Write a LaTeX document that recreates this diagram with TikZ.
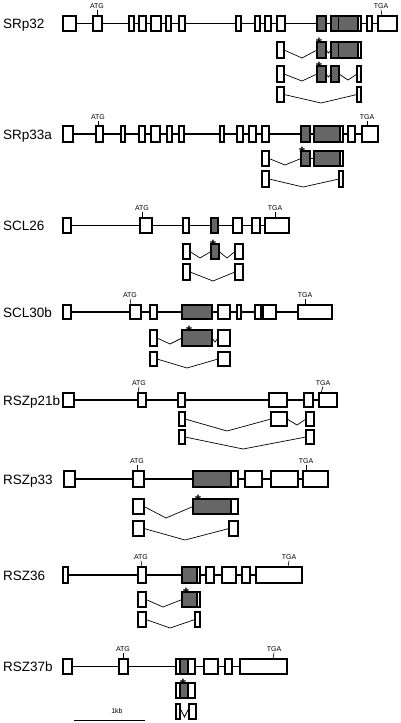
\documentclass[tikz,border=0pt]{standalone}
\usepackage{fontspec}
\setmainfont{Liberation Sans}
\begin{document}
\begin{tikzpicture}[
    x=1pt, y=-1pt,
    exon/.style={draw, line width=1.3pt, fill=white},
    cds/.style={exon, fill=black!60},
    intron/.style={line width=1.4pt},
    splice/.style={line width=0.7pt},
    tagline/.style={line width=0.6pt},
    genename/.style={anchor=base west, inner sep=0pt, font=\fontsize{13.5}{14}\selectfont},
    tagtext/.style={anchor=base, inner sep=0.8pt, font=\fontsize{7}{8}\selectfont},
    stopstar/.style={anchor=base, inner sep=0pt, font=\fontsize{15}{16}\selectfont\bfseries}
]
\useasboundingbox (0,0) rectangle (400,723);

% === SRp32 ===
\node[genename] (srp32) at (3,28.5) {SRp32};
\draw[intron] (76,23.5) -- (378,23.5);
\foreach \a/\b in {63/76,93/102,129/134,139/146,151/161,166/171,179/185,236/241,255/260,265/271,277/285,367/372,378/397}
    \draw[exon] (\a,16) rectangle (\b,31);
\foreach \a/\b in {317/326,331/358}
    \draw[cds] (\a,16) rectangle (\b,31);
\draw[exon] (358,16) rectangle (361,31);
\draw[line width=1pt] (338,16) -- (338,31);
\node[tagtext] (atg1) at (97,8.5) {ATG};
\draw[tagline] (97,16) -- (atg1.south);
\node[tagtext] (tga1) at (381,8.5) {TGA};
\draw[tagline] (382,16) -- (tga1.south);
% transcripts
\draw[splice] (284,50) -- (302,58) -- (317,50);
\draw[splice] (326,50) -- (328.5,53) -- (331,50);
\draw[exon] (277,42) rectangle (284,58);
\draw[cds] (317,42) rectangle (326,58);
\draw[cds] (331,42) rectangle (358,58);
\draw[exon] (358,42) rectangle (361,58);
\draw[line width=1pt] (338,42) -- (338,58);
\node[stopstar] (st1a) at (319,48) {*};
\draw[splice] (284,74) -- (302,81) -- (317,74);
\draw[splice] (326,74) -- (328.5,77) -- (331,74);
\draw[splice] (339,74) -- (348,80) -- (357,74);
\draw[exon] (277,66) rectangle (284,82);
\draw[cds] (317,66) rectangle (326,82);
\draw[cds] (331,66) rectangle (339,82);
\draw[exon] (357,66) rectangle (361,82);
\node[stopstar] (st1b) at (319,72) {*};
\draw[splice] (284,94.5) -- (321,103) -- (357,94.5);
\draw[exon] (277,87) rectangle (284,102);
\draw[exon] (357,87) rectangle (361,102);

% === SRp33a ===
\node[genename] (srp33a) at (3,139) {SRp33a};
\draw[intron] (73,134) -- (362,134);
\foreach \a/\b in {63/73,96/103,121/125,139/145,151/160,167/172,179/184,220/224,237/243,249/256,262/269,348/355,362/378}
    \draw[exon] (\a,126) rectangle (\b,142);
\foreach \a/\b in {301/310,314/340}
    \draw[cds] (\a,126) rectangle (\b,142);
\draw[exon] (340,126) rectangle (343,142);
\node[tagtext] (atg2) at (98,119.5) {ATG};
\draw[tagline] (98,126) -- (atg2.south);
\node[tagtext] (tga2) at (367,119.5) {TGA};
\draw[tagline] (367,126) -- (tga2.south);
% transcripts
\draw[splice] (269,158.5) -- (285,165) -- (301,158.5);
\draw[splice] (310,158.5) -- (314,158.5);
\draw[exon] (262,151) rectangle (269,166);
\draw[cds] (301,151) rectangle (310,166);
\draw[cds] (314,151) rectangle (340,166);
\draw[exon] (340,151) rectangle (343,166);
\node[stopstar] (st2) at (302,157) {*};
\draw[splice] (269,179) -- (303,187) -- (339,179);
\draw[exon] (262,171) rectangle (269,187);
\draw[exon] (339,171) rectangle (343,187);

% === SCL26 ===
\node[genename] (scl26) at (3,230.5) {SCL26};
\draw[intron] (71,225.5) -- (265,225.5);
\foreach \a/\b in {63/71,140/152,183/189,233/242,252/260,265/289}
    \draw[exon] (\a,218) rectangle (\b,233);
\draw[cds] (211,218) rectangle (218,233);
\node[tagtext] (atg3) at (142,210.5) {ATG};
\draw[tagline] (142,218) -- (atg3.south);
\node[tagtext] (tga3) at (275,210.5) {TGA};
\draw[tagline] (275,218) -- (tga3.south);
% transcripts
\draw[splice] (190,251.5) -- (200,258) -- (211,251.5);
\draw[splice] (219,251.5) -- (227,258) -- (235,251.5);
\draw[exon] (183,244) rectangle (190,259);
\draw[cds] (211,244) rectangle (219,259);
\draw[exon] (235,244) rectangle (243,259);
\node[stopstar] (st3) at (213,250) {*};
\draw[splice] (190,272) -- (213,281) -- (235,272);
\draw[exon] (183,264) rectangle (190,280);
\draw[exon] (235,264) rectangle (243,280);

% === SCL30b ===
\node[genename] (scl30b) at (3,317) {SCL30b};
\draw[intron] (71,312) -- (298,312);
\foreach \a/\b in {63/71,130/141,150/157,218/230,237/241,255/261,263/276,298/332}
    \draw[exon] (\a,305) rectangle (\b,319);
\draw[cds] (182,305) rectangle (212,319);
\node[tagtext] (atg4) at (130,297.5) {ATG};
\draw[tagline] (131,305) -- (atg4.south);
\node[tagtext] (tga4) at (305,297.5) {TGA};
\draw[tagline] (305,305) -- (tga4.south);
% transcripts
\draw[splice] (157,338) -- (170,344) -- (182,338);
\draw[splice] (212,338) -- (215,342) -- (218,338);
\draw[exon] (150,330) rectangle (157,346);
\draw[cds] (182,330) rectangle (212,346);
\draw[exon] (218,330) rectangle (230,346);
\node[stopstar] (st4) at (189,336) {*};
\draw[splice] (157,359) -- (187,368) -- (218,359);
\draw[exon] (150,352) rectangle (157,366);
\draw[exon] (218,352) rectangle (230,366);

% === RSZp21b ===
\node[genename] (rszp21b) at (3,405) {RSZp21b};
\draw[intron] (74,400) -- (319,400);
\foreach \a/\b in {63/74,138/146,178/185,269/287,304/313,319/337}
    \draw[exon] (\a,393) rectangle (\b,407);
\node[tagtext] (atg5) at (139,385.5) {ATG};
\draw[tagline] (138,393) -- (atg5.south);
\node[tagtext] (tga5) at (323,385.5) {TGA};
\draw[tagline] (321,393) -- (tga5.south);
% transcripts
\draw[splice] (185,419) -- (227,431) -- (271,419);
\draw[splice] (287,419) -- (297,425) -- (306,419);
\foreach \a/\b in {179/185,271/287,306/314}
    \draw[exon] (\a,412) rectangle (\b,426);
\draw[splice] (185,437) -- (243,449) -- (306,437);
\foreach \a/\b in {179/185,306/314}
    \draw[exon] (\a,430) rectangle (\b,444);

% === RSZp33 ===
\node[genename] (rszp33) at (3,484) {RSZp33};
\draw[intron] (75,479) -- (303,479);
\foreach \a/\b in {64/75,133/144,245/262,271/298,303/328}
    \draw[exon] (\a,471) rectangle (\b,487);
\draw[cds] (193,471) rectangle (231,487);
\draw[exon] (231,471) rectangle (238,487);
\node[tagtext] (atg6) at (137,463.5) {ATG};
\draw[tagline] (137,471) -- (atg6.south);
\node[tagtext] (tga6) at (306,463.5) {TGA};
\draw[tagline] (306,471) -- (tga6.south);
% transcripts
\draw[splice] (144,506.5) -- (166,518) -- (193,506.5);
\draw[exon] (133,499) rectangle (144,514);
\draw[cds] (193,499) rectangle (231,514);
\draw[exon] (231,499) rectangle (238,514);
\node[stopstar] (st6) at (198,505) {*};
\draw[splice] (144,528.5) -- (185,540) -- (229,528.5);
\draw[exon] (133,521) rectangle (144,536);
\draw[exon] (229,521) rectangle (238,536);

% === RSZ36 ===
\node[genename] (rsz36) at (3,580) {RSZ36};
\draw[intron] (68,575) -- (256,575);
\foreach \a/\b in {63/68,138/146,206/214,222/236,242/250,256/302}
    \draw[exon] (\a,567) rectangle (\b,583);
\draw[cds] (182,567) rectangle (197,583);
\draw[exon] (197,567) rectangle (200,583);
\node[tagtext] (atg7) at (141,559.5) {ATG};
\draw[tagline] (142,567) -- (atg7.south);
\node[tagtext] (tga7) at (289,559.5) {TGA};
\draw[tagline] (288,567) -- (tga7.south);
% transcripts
\draw[splice] (146,599.5) -- (163,607) -- (182,599.5);
\draw[exon] (138,592) rectangle (146,607);
\draw[cds] (182,592) rectangle (197,607);
\draw[exon] (197,592) rectangle (200,607);
\node[stopstar] (st7) at (186,598) {*};
\draw[splice] (146,619.5) -- (170,628) -- (195,619.5);
\draw[exon] (138,612) rectangle (146,627);
\draw[exon] (195,612) rectangle (200,627);

% === RSZ37b ===
\node[genename] (rsz37b) at (3,671.5) {RSZ37b};
\draw[intron] (72,666.5) -- (240,666.5);
\foreach \a/\b in {63/72,119/128,176/180,188/195,204/218,225/232,240/287}
    \draw[exon] (\a,659) rectangle (\b,674);
\draw[cds] (180,659) rectangle (188,674);
\node[tagtext] (atg8) at (123,651.5) {ATG};
\draw[tagline] (123,659) -- (atg8.south);
\node[tagtext] (tga8) at (274,651.5) {TGA};
\draw[tagline] (273,659) -- (tga8.south);
% transcripts
\draw[exon] (176,683) rectangle (180,698);
\draw[cds] (180,683) rectangle (188,698);
\draw[exon] (188,683) rectangle (195,698);
\node[stopstar] (st8) at (183,689) {*};
\draw[splice] (180,708) -- (184.5,717) -- (189,708);
\draw[exon] (176,704) rectangle (180,719);
\draw[exon] (189,704) rectangle (196,719);

% === scale bar ===
\coordinate (barL) at (74,720);
\coordinate (barR) at (145,720);
\draw[line width=1pt] (barL) -- (barR);
\node[tagtext] (kb) at (117,713.5) {1kb};

\end{tikzpicture}
\end{document}
